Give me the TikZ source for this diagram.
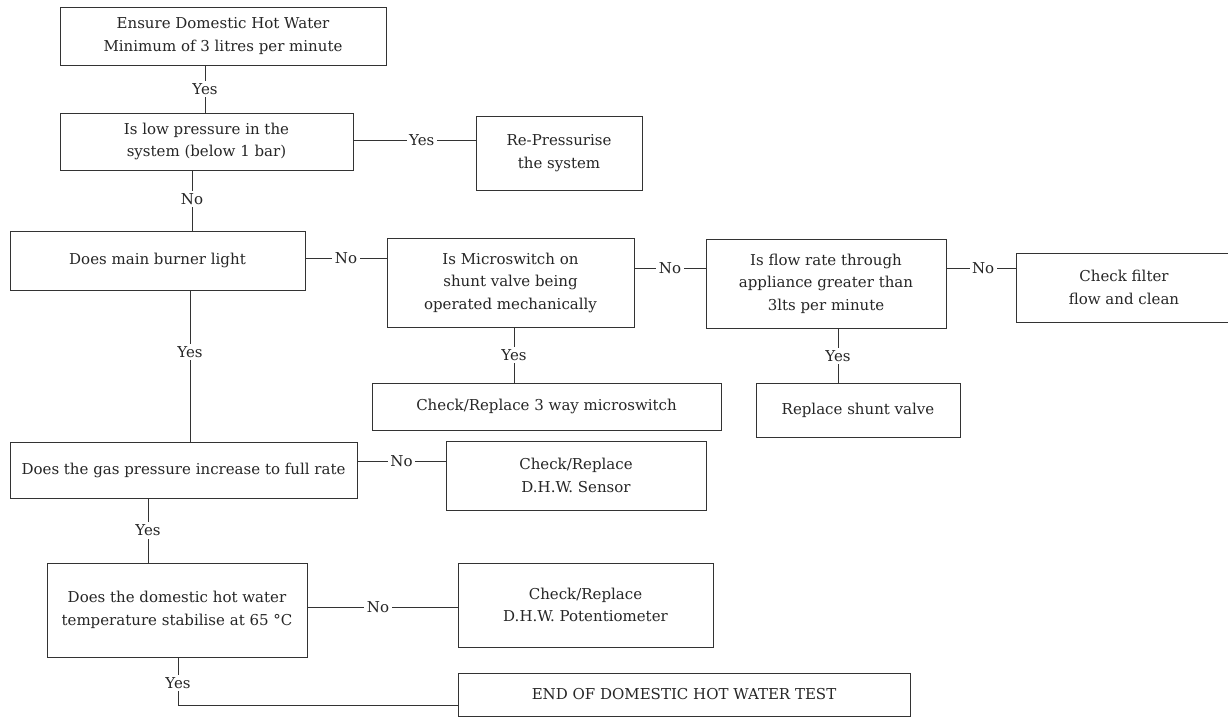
\documentclass[tikz,border=0pt]{standalone}
\usepackage{fontspec}
\setmainfont{DejaVu Serif}
\begin{document}
\begin{tikzpicture}[x=1pt,y=-1pt,
  box/.style={draw=black!80, line width=0.9pt, align=center, inner sep=0pt,
    text=black!85, font=\fontsize{15}{22.5}\selectfont},
  lbl/.style={fill=white, inner sep=2.5pt, text=black!85, font=\fontsize{15}{22}\selectfont},
  conn/.style={draw=black!80, line width=0.9pt}]
\useasboundingbox[fill=white] (0,0) rectangle (1228,723);
% boxes (centre, width, height)
\node[box, minimum width=326pt, minimum height=58pt] (b1) at (223,36) {Ensure Domestic Hot Water\\Minimum of 3 litres per minute};
\node[box, minimum width=293pt, minimum height=57pt] (b2) at (206.5,141.5) {Is low pressure in the\\system (below 1 bar)};
\node[box, minimum width=166pt, minimum height=74pt] (b3) at (559,153) {Re-Pressurise\\the system};
\node[box, minimum width=295pt, minimum height=59pt] (b4) at (157.5,260.5) {Does main burner light};
\node[box, minimum width=247pt, minimum height=89pt] (b5) at (510.5,282.5) {Is Microswitch on\\shunt valve being\\operated mechanically};
\node[box, minimum width=240pt, minimum height=89pt] (b6) at (826,283.5) {Is flow rate through\\appliance greater than\\3lts per minute};
\node[box, minimum width=216pt, minimum height=69pt] (b7) at (1124,287.5) {Check filter\\flow and clean};
\node[box, minimum width=349pt, minimum height=47pt] (b8) at (546.5,406.5) {Check/Replace 3 way microswitch};
\node[box, minimum width=204pt, minimum height=54pt] (b9) at (858,410.5) {Replace shunt valve};
\node[box, minimum width=347pt, minimum height=56pt] (b10) at (183.5,470) {Does the gas pressure increase to full rate};
\node[box, minimum width=260pt, minimum height=69pt] (b11) at (576,475.5) {Check/Replace\\D.H.W. Sensor};
\node[box, minimum width=260pt, minimum height=94pt] (b12) at (177,610) {Does the domestic hot water\\temperature stabilise at 65 °C};
\node[box, minimum width=255pt, minimum height=84pt] (b13) at (585.5,605) {Check/Replace\\D.H.W. Potentiometer};
\node[box, minimum width=452pt, minimum height=43pt] (b14) at (684,694.5) {END OF DOMESTIC HOT WATER TEST};
% helper coordinates
\coordinate (x205) at (205,0);
\coordinate (x192) at (192,0);
\coordinate (x190) at (190,0);
\coordinate (x148) at (148,0);
\coordinate (x178) at (178,0);
\coordinate (x514) at (514,0);
\coordinate (x838) at (838,0);
\coordinate (y140) at (0,140);
\coordinate (y258) at (0,258);
\coordinate (y268) at (0,268);
\coordinate (y461) at (0,461);
\coordinate (y607) at (0,607);
\coordinate (y705) at (0,705);
% connectors
\draw[conn] (b1.south -| x205) -- node[lbl]{Yes} (b2.north -| x205);
\draw[conn] (b2.east |- y140) -- node[lbl, pos=0.56]{Yes} (b3.west |- y140);
\draw[conn] (b2.south -| x192) -- node[lbl, pos=0.47]{No} (b4.north -| x192);
\draw[conn] (b4.east |- y258) -- node[lbl]{No} (b5.west |- y258);
\draw[conn] (b5.east |- y268) -- node[lbl]{No} (b6.west |- y268);
\draw[conn] (b6.east |- y268) -- node[lbl, pos=0.53]{No} (b7.west |- y268);
\draw[conn] (b5.south -| x514) -- node[lbl]{Yes} (b8.north -| x514);
\draw[conn] (b6.south -| x838) -- node[lbl]{Yes} (b9.north -| x838);
\draw[conn] (b4.south -| x190) -- node[lbl, pos=0.41]{Yes} (b10.north -| x190);
\draw[conn] (b10.east |- y461) -- node[lbl]{No} (b11.west |- y461);
\draw[conn] (b10.south -| x148) -- node[lbl]{Yes} (b12.north -| x148);
\draw[conn] (b12.east |- y607) -- node[lbl, pos=0.47]{No} (b13.west |- y607);
\draw[conn] (b12.south -| x178) -- node[lbl, pos=0.54]{Yes} (x178 |- y705) -- (b14.west |- y705);
\end{tikzpicture}
\end{document}
